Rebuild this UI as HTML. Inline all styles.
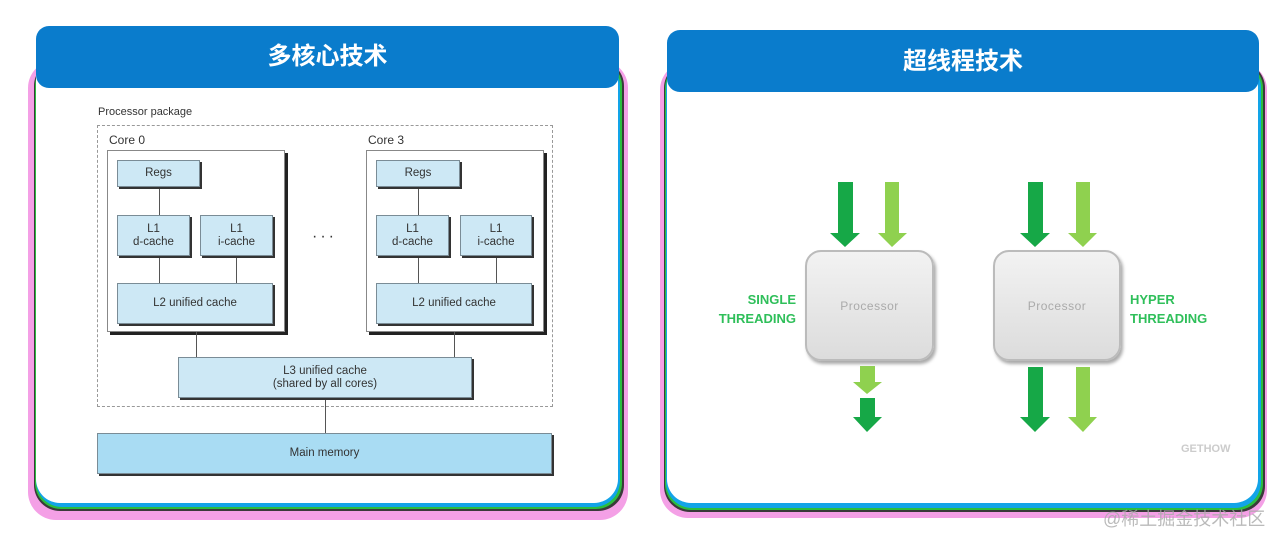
<!DOCTYPE html>
<html><head><meta charset="utf-8"><style>
body{margin:0;width:1272px;height:533px;background:#fff;position:relative;overflow:hidden;font-family:"Liberation Sans",sans-serif}
div{position:absolute;box-sizing:border-box}
.b{background:#cde8f5;border:1px solid #7a8c96;box-shadow:2px 2px 0 #333;font-size:11.5px;color:#333;text-align:center;display:flex;align-items:center;justify-content:center;line-height:13px}
.core{background:#fff;border:1px solid #888;box-shadow:3px 3px 0 #222}
.vl{width:1px;background:#555}
.t{font-size:12px;color:#333}
.hdr{background:#0a7ccc;color:#fff;font-family:"Liberation Sans","Noto Sans CJK SC",sans-serif;font-weight:bold;font-size:24px;text-align:center;border-radius:13px}
.proc{background:linear-gradient(#f2f2f2,#dcdcdc);border:2px solid #bbb;border-radius:16px;box-shadow:2px 3px 3px #aaa;color:#aaa;font-size:12px;display:flex;align-items:center;justify-content:center;letter-spacing:.5px}
.g{color:#2fbf5a;font-weight:bold;font-size:13px;line-height:19px}
</style></head><body>
<div style="left:28px;top:60px;width:600px;height:460px;background:#f4a0e6;border-radius:28px"></div>
<div style="left:34px;top:60px;width:590px;height:451px;background:#3a3a3a;border-radius:26px"></div>
<div style="left:35px;top:60px;width:587px;height:449px;background:#2bbd3f;border-radius:26px"></div>
<div style="left:36px;top:60px;width:584px;height:447px;background:#12a4e8;border-radius:26px"></div>
<div style="left:36px;top:40px;width:582px;height:463px;background:#fff;border-radius:24px"></div>
<div class="hdr" style="left:36px;top:26px;width:583px;height:62px;line-height:62px">多核心技术</div>

<div class="t" style="left:98px;top:106px;font-size:11px">Processor package</div>
<div style="left:97px;top:125px;width:456px;height:282px;border:1px dashed #999"></div>
<div class="t" style="left:109px;top:133px">Core 0</div>
<div class="t" style="left:368px;top:133px">Core 3</div>
<div class="core" style="left:107px;top:150px;width:178px;height:182px"></div>
<div class="core" style="left:366px;top:150px;width:178px;height:182px"></div>
<div class="vl" style="left:159px;top:187px;height:28px"></div>
<div class="vl" style="left:159px;top:256px;height:27px"></div>
<div class="vl" style="left:236px;top:256px;height:27px"></div>
<div class="vl" style="left:418px;top:187px;height:28px"></div>
<div class="vl" style="left:418px;top:256px;height:27px"></div>
<div class="vl" style="left:496px;top:256px;height:27px"></div>
<div class="b" style="left:117px;top:160px;width:83px;height:27px">Regs</div>
<div class="b" style="left:117px;top:215px;width:73px;height:41px">L1<br>d-cache</div>
<div class="b" style="left:200px;top:215px;width:73px;height:41px">L1<br>i-cache</div>
<div class="b" style="left:117px;top:283px;width:156px;height:41px">L2 unified cache</div>
<div class="b" style="left:376px;top:160px;width:84px;height:27px">Regs</div>
<div class="b" style="left:376px;top:215px;width:73px;height:41px">L1<br>d-cache</div>
<div class="b" style="left:460px;top:215px;width:72px;height:41px">L1<br>i-cache</div>
<div class="b" style="left:376px;top:283px;width:156px;height:41px">L2 unified cache</div>
<div class="t" style="left:312px;top:228px;font-size:16px;letter-spacing:3px">···</div>
<div class="vl" style="left:196px;top:332px;height:25px"></div>
<div class="vl" style="left:454px;top:332px;height:25px"></div>
<div class="vl" style="left:325px;top:398px;height:35px"></div>
<div class="b" style="left:178px;top:357px;width:294px;height:41px">L3 unified cache<br>(shared by all cores)</div>
<div class="b" style="left:97px;top:433px;width:455px;height:41px;background:#a9dcf3">Main memory</div>

<div style="left:660px;top:62px;width:607px;height:456px;background:#f4a0e6;border-radius:28px"></div>
<div style="left:664px;top:62px;width:601px;height:450px;background:#3a3a3a;border-radius:26px"></div>
<div style="left:665px;top:62px;width:598px;height:448px;background:#2bbd3f;border-radius:26px"></div>
<div style="left:666px;top:62px;width:595px;height:446px;background:#12a4e8;border-radius:26px"></div>
<div style="left:667px;top:44px;width:591px;height:459px;background:#fff;border-radius:24px"></div>
<div class="hdr" style="left:667px;top:30px;width:592px;height:62px;line-height:64px">超线程技术</div>

<svg style="position:absolute;left:0;top:0" width="1272" height="533">
<g fill="#16a847">
<polygon points="838,182 853,182 853,233 860,233 845,247 830,233 838,233"/>
<polygon points="1028,182 1043,182 1043,233 1050,233 1035,247 1020,233 1028,233"/>
<polygon points="860,398 875,398 875,417 882,417 867,432 853,417 860,417"/>
<polygon points="1028,367 1043,367 1043,417 1050,417 1035,432 1020,417 1028,417"/>
</g>
<g fill="#8fd14f">
<polygon points="885,182 899,182 899,233 907,233 892,247 878,233 885,233"/>
<polygon points="1076,182 1090,182 1090,233 1097,233 1083,247 1068,233 1076,233"/>
<polygon points="860,366 875,366 875,382 882,382 867,394 853,382 860,382"/>
<polygon points="1076,367 1090,367 1090,417 1097,417 1083,432 1068,417 1076,417"/>
</g>
</svg>
<div class="proc" style="left:805px;top:250px;width:129px;height:111px">Processor</div>
<div class="proc" style="left:993px;top:250px;width:128px;height:111px">Processor</div>
<div class="g" style="left:690px;top:290px;width:106px;text-align:right">SINGLE<br>THREADING</div>
<div class="g" style="left:1130px;top:290px">HYPER<br>THREADING</div>
<div style="left:1181px;top:443px;font-size:11px;color:#ccc;font-weight:bold">GETHOW</div>
<div style="left:1103px;top:505px;font-size:18px;color:#aaa;font-family:'Liberation Sans','Noto Sans CJK SC',sans-serif;opacity:.8;white-space:nowrap">@稀土掘金技术社区</div>
</body></html>
